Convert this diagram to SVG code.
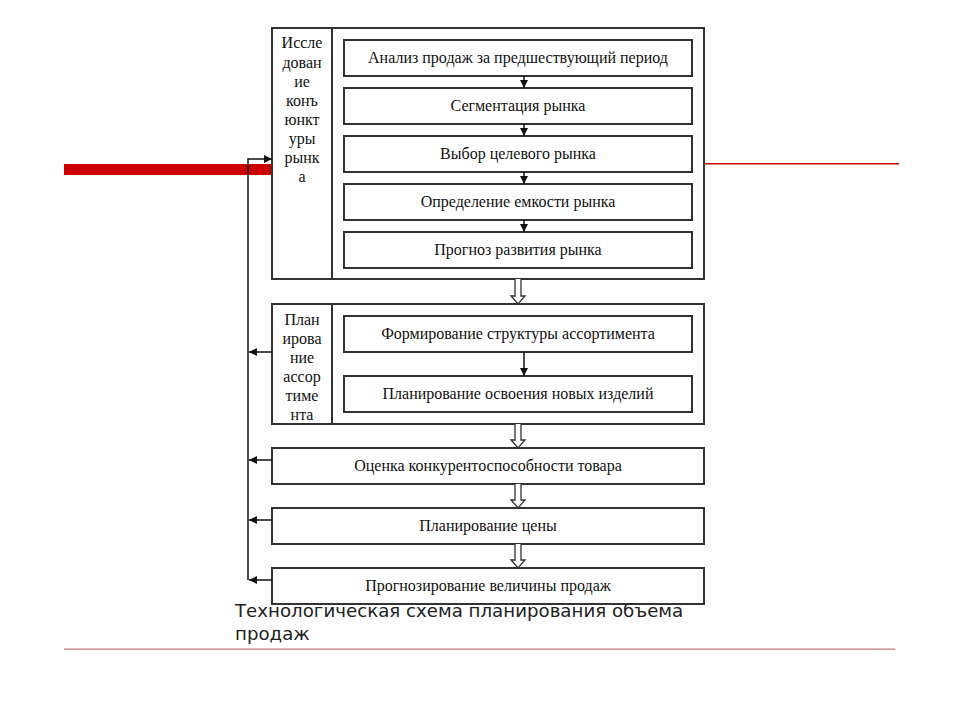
<svg xmlns="http://www.w3.org/2000/svg" width="960" height="720" viewBox="0 0 960 720">
<defs>
<style>
.box{fill:#fff;stroke:#333;stroke-width:2}
.ln{fill:none;stroke:#111;stroke-width:1.5}
.t{font-family:"Liberation Serif","Times New Roman",serif;font-size:16px;fill:#111;text-anchor:middle}
.v{font-family:"Liberation Serif","Times New Roman",serif;font-size:16px;fill:#111;text-anchor:middle}
.dbl{fill:#fff;stroke:#333;stroke-width:1.3}
.cap{font-family:"DejaVu Sans",Verdana,sans-serif;font-size:18.2px;fill:#222}
</style>
<marker id="ah" viewBox="0 0 10 10" refX="10" refY="5" markerWidth="8" markerHeight="8" markerUnits="userSpaceOnUse" orient="auto"><path d="M0,0 L10,5 L0,10 z" fill="#111"/></marker>
</defs>
<rect width="960" height="720" fill="#fff"/>
<g id="decor">
<rect x="64" y="164" width="208" height="11" fill="#cc0000"/>
<rect x="704" y="163" width="195" height="1.5" fill="#cc0000"/>
<rect x="64" y="648.5" width="831" height="1.3" fill="#cc7a8a"/>
</g>
<g id="block1">
<rect class="box" x="272" y="28" width="432" height="251"/>
<line x1="332" y1="28" x2="332" y2="279" stroke="#333" stroke-width="2"/>
<text class="v"><tspan x="302" y="48">Иссле</tspan><tspan x="302" y="68">дован</tspan><tspan x="302" y="87">ие</tspan><tspan x="302" y="106">конъ</tspan><tspan x="302" y="125">юнкт</tspan><tspan x="302" y="144">уры</tspan><tspan x="302" y="163">рынк</tspan><tspan x="302" y="182">а</tspan></text>
</g>
<g id="n1"><rect class="box" x="344" y="40" width="348" height="36"/><text class="t" x="518" y="63">Анализ продаж за предшествующий период</text></g>
<g id="n2"><rect class="box" x="344" y="88" width="348" height="36"/><text class="t" x="518" y="111">Сегментация рынка</text></g>
<g id="n3"><rect class="box" x="344" y="136" width="348" height="36"/><text class="t" x="518" y="159">Выбор целевого рынка</text></g>
<g id="n4"><rect class="box" x="344" y="184" width="348" height="36"/><text class="t" x="518" y="207">Определение емкости рынка</text></g>
<g id="n5"><rect class="box" x="344" y="232" width="348" height="36"/><text class="t" x="518" y="255">Прогноз развития рынка</text></g>
<g id="block2">
<rect class="box" x="272" y="304" width="432" height="120"/>
<line x1="332" y1="304" x2="332" y2="424" stroke="#333" stroke-width="2"/>
<text class="v"><tspan x="302" y="325">План</tspan><tspan x="302" y="344">ирова</tspan><tspan x="302" y="363">ние</tspan><tspan x="302" y="382">ассор</tspan><tspan x="302" y="401">тиме</tspan><tspan x="302" y="420">нта</tspan></text>
</g>
<g id="n6"><rect class="box" x="344" y="316" width="348" height="36"/><text class="t" x="518" y="339">Формирование структуры ассортимента</text></g>
<g id="n7"><rect class="box" x="344" y="376" width="348" height="36"/><text class="t" x="518" y="399">Планирование освоения новых изделий</text></g>
<g id="n8"><rect class="box" x="272" y="448" width="432" height="36"/><text class="t" x="488" y="471">Оценка конкурентоспособности товара</text></g>
<g id="n9"><rect class="box" x="272" y="508" width="432" height="36"/><text class="t" x="488" y="531">Планирование цены</text></g>
<g id="n10"><rect class="box" x="272" y="568" width="432" height="36"/><text class="t" x="488" y="591">Прогнозирование величины продаж</text></g>
<g id="connectors">
<line class="ln" x1="524" y1="76" x2="524" y2="88" marker-end="url(#ah)"/>
<line class="ln" x1="524" y1="124" x2="524" y2="136" marker-end="url(#ah)"/>
<line class="ln" x1="524" y1="172" x2="524" y2="184" marker-end="url(#ah)"/>
<line class="ln" x1="524" y1="220" x2="524" y2="232" marker-end="url(#ah)"/>
<line class="ln" x1="524" y1="352" x2="524" y2="376" marker-end="url(#ah)"/>
<path class="dbl" d="M515,279 V296 H511 L518,304 L525,296 H521 V279"/>
<path class="dbl" d="M515,424 V440 H511 L518,448 L525,440 H521 V424"/>
<path class="dbl" d="M515,484 V500 H511 L518,508 L525,500 H521 V484"/>
<path class="dbl" d="M515,544 V560 H511 L518,568 L525,560 H521 V544"/>
<path class="ln" d="M248,580 V159 H272" marker-end="url(#ah)"/>
<line class="ln" x1="272" y1="352" x2="249" y2="352" marker-end="url(#ah)"/>
<line class="ln" x1="272" y1="460" x2="249" y2="460" marker-end="url(#ah)"/>
<line class="ln" x1="272" y1="520" x2="249" y2="520" marker-end="url(#ah)"/>
<line class="ln" x1="272" y1="580" x2="249" y2="580" marker-end="url(#ah)"/>
</g>
<g id="caption">
<text class="cap" x="235" y="617">Технологическая схема планирования объема</text>
<text class="cap" x="235" y="640">продаж</text>
</g>
</svg>
